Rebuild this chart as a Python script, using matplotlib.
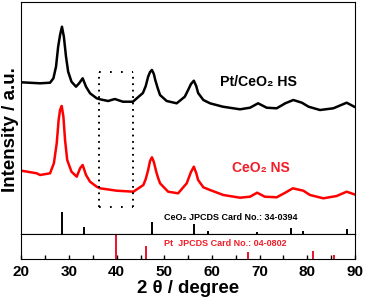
import matplotlib.pyplot as plt
import numpy as np

plt.rcParams['font.family'] = ['Liberation Sans', 'DejaVu Sans']

# XRD patterns (2 theta in degree, intensity in arbitrary units)
hs_x = [20.0, 23.9, 26.0, 26.7, 27.25, 27.7, 28.1, 28.5, 28.9, 29.35, 29.8, 30.5, 31.45,
        32.1, 32.85, 33.55, 34.4, 35.8, 36.5, 38.2, 39.6, 41.3, 43.4, 45.5, 46.1, 46.6,
        47.0, 47.4, 47.8, 48.1, 48.6, 49.1, 50.5, 52.6, 54.3, 55.0, 55.6, 56.2, 56.7,
        57.1, 58.2, 59.6, 62.3, 65.9, 68.0, 69.7, 71.5, 73.6, 75.4, 77.1, 78.9, 80.3,
        82.7, 85.5, 88.3, 89.9]
hs_y = [151.7, 150.7, 151.3, 155.7, 167.3, 187.3, 199, 207.3, 197.3, 177.3, 162.3, 152.3, 147.3,
        150.7, 155.7, 147.3, 140.7, 135.7, 134.7, 133, 135, 132.3, 132.3, 141, 148, 157.3,
        162, 164, 160, 154, 146, 139, 133, 130.7, 137.3, 144, 150, 153.3, 148,
        141, 134, 130.7, 127.3, 124.7, 126.3, 130.7, 126.3, 125.7, 130.7, 134, 131.3, 127.3,
        124, 125.7, 131.3, 127.3]

ns_x = [20.0, 23.2, 23.9, 26.0, 26.8, 27.4, 27.8, 28.1, 28.45, 28.8, 29.15, 29.6, 30.5,
        31.6, 32.3, 32.85, 33.55, 34.4, 35.8, 36.5, 40.0, 43.5, 45.6, 46.1, 46.6, 47.0,
        47.4, 47.8, 48.3, 48.7, 49.1, 50.8, 52.9, 54.7, 55.6, 56.2, 56.7, 57.1, 58.2,
        59.6, 62.4, 65.9, 68.0, 69.5, 71.1, 73.6, 75.4, 77.0, 79.2, 80.6, 83.4, 86.2,
        88.3, 89.9]
ns_y = [63.3, 60.7, 59, 60.7, 70.7, 90.7, 114, 124, 128, 117.3, 94, 74, 62.3,
        57.3, 65.7, 69, 59, 52.3, 47.3, 45.7, 43.3, 42.3, 49, 55, 64, 73,
        76.7, 72, 62.3, 56, 50.7, 42.3, 40.7, 50.7, 62, 67.3, 61, 54, 46.7,
        44, 39, 36.3, 37.3, 41.3, 37.3, 36.7, 41.3, 45.7, 43.3, 39, 35.7, 38,
        42.3, 39.7]

# reference cards
ceo2_pos = [28.5, 33.1, 47.5, 56.3, 59.1, 69.4, 76.7, 79.1, 88.4]
ceo2_int = [22, 7, 12, 10, 3, 2, 6, 3, 5]
pt_pos = [39.8, 46.2, 67.5, 81.3, 85.7]
pt_int = [25, 13, 7, 8, 4]

fig = plt.figure(figsize=(3.65, 3.0), dpi=100)
ax = fig.add_axes([0.0589, 0.22, 0.913, 0.7733])
ax2 = fig.add_axes([0.0589, 0.1367, 0.913, 0.0833], sharex=ax)

ax.plot(hs_x, hs_y, color='black', lw=1.8)
ax.plot(ns_x, ns_y, color='red', lw=1.8)
ax.vlines(ceo2_pos, 0, ceo2_int, color='black', lw=1.4)
ax2.vlines(pt_pos, 0, pt_int, color='#e8142a', lw=1.4)

# dotted box around the Pt region
box_l, box_r, box_b, box_t = 36.2, 43.5, 27, 162
ax.plot([box_l, box_l], [box_b, box_t], color='black', lw=1.4, linestyle=(0, (0.9, 2.4)))
ax.plot([box_r, box_r], [box_b, box_t], color='black', lw=1.4, linestyle=(0, (0.9, 2.4)))
ax.plot([box_l, box_r], [box_t, box_t], color='black', lw=1.4, linestyle=(0, (0.9, 4.75)))
ax.plot([box_l, box_r], [box_b, box_b], color='black', lw=1.4, linestyle=(0, (0.9, 4.75)))

labels = []
labels.append((ax.text(61.7, 152, 'Pt/CeO\u2082 HS', fontsize=10, fontweight='bold', va='center'), 77))
labels.append((ax.text(64.2, 66, 'CeO\u2082 NS', fontsize=10.5, fontweight='bold',
                       color='#f01e28', va='center'), 58))
labels.append((ax.text(50.0, 17, 'CeO\u2082 JPCDS Card No.: 34-0394', fontsize=6.2,
                       fontweight='bold', va='center'), 134))
labels.append((ax2.text(50.0, 15, 'Pt  JPCDS Card No.: 04-0802', fontsize=6.2, fontweight='bold',
                        color='#f01e28', va='center'), 123))

ax.set_xlim(20, 90)
ax.set_ylim(0, 232)
ax2.set_ylim(0, 25)
ax.set_yticks([])
ax2.set_yticks([])
ax.tick_params(axis='x', which='both', bottom=False, labelbottom=False)
ax2.set_xticks(np.arange(20, 91, 10))
ax2.set_xticks(np.arange(25, 90, 10), minor=True)
ax2.tick_params(axis='x', which='both', direction='in', length=3, width=1, pad=4)
for lab in ax2.get_xticklabels():
    lab.set_fontsize(11)
    lab.set_fontweight('bold')
xl = ax2.set_xlabel('2 \u03b8 / degree', fontsize=14, fontweight='bold', labelpad=1)
labels.append((xl, 102))
yl = fig.text(0.028, 0.567, 'Intensity / a.u.', rotation=90, fontsize=12.5, fontweight='bold',
              ha='center', va='center')

# scale text sizes so their widths match the original figure
fig.canvas.draw()
r = fig.canvas.get_renderer()
for t, w in labels:
    bb = t.get_window_extent(r)
    t.set_fontsize(t.get_fontsize() * w / bb.width)
bb = yl.get_window_extent(r)
yl.set_fontsize(yl.get_fontsize() * 126 / bb.height)

fig.savefig('out.png', dpi=100)
